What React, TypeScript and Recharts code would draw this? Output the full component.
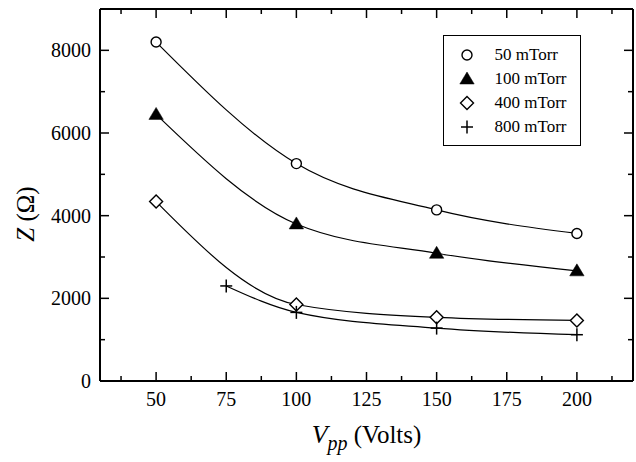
import React from 'react';
import { LineChart, Line, XAxis, YAxis, Legend, Label } from 'recharts';

const vpp50 = [50, 100, 150, 200];
const z50 = [8200, 5260, 4140, 3570];
const vpp100 = [50, 100, 150, 200];
const z100 = [6450, 3800, 3090, 2665];
const vpp400 = [50, 100, 150, 200];
const z400 = [4340, 1850, 1540, 1465];
const vpp800 = [75, 100, 150, 200];
const z800 = [2300, 1660, 1280, 1120];

const seriesNames = ['50 mTorr', '100 mTorr', '400 mTorr', '800 mTorr'];
const xTicks = [37.5, 50, 62.5, 75, 87.5, 100, 112.5, 125, 137.5, 150, 162.5, 175, 187.5, 200, 212.5];
const yTicks = [0, 1000, 2000, 3000, 4000, 5000, 6000, 7000, 8000];

const build = (xs: number[], ys: number[]) => xs.map((x, i) => ({ x, y: ys[i] }));
const d50 = build(vpp50, z50);
const d100 = build(vpp100, z100);
const d400 = build(vpp400, z400);
const d800 = build(vpp800, z800);

const FONT = "'Liberation Serif', 'Times New Roman', serif";
const textStyle = { fontFamily: FONT };

const Marker = ({ kind, cx, cy }: { kind: number; cx: number; cy: number }) => {
  if (kind === 0) return <circle cx={cx} cy={cy} r={5} fill="#fff" stroke="#000" strokeWidth={1.4} />;
  if (kind === 1)
    return <polygon points={`${cx - 7.2},${cy + 5} ${cx + 7.2},${cy + 5} ${cx},${cy - 7}`} fill="#000" stroke="#000" strokeWidth={0.5} />;
  if (kind === 2)
    return (
      <polygon
        points={`${cx},${cy - 6.5} ${cx + 6.5},${cy} ${cx},${cy + 6.5} ${cx - 6.5},${cy}`}
        fill="#fff"
        stroke="#000"
        strokeWidth={1.4}
      />
    );
  return (
    <g stroke="#000" strokeWidth={1.5}>
      <line x1={cx - 6} y1={cy} x2={cx + 6} y2={cy} />
      <line x1={cx} y1={cy - 6.5} x2={cx} y2={cy + 6.5} />
    </g>
  );
};

const makeDot = (kind: number) => (props: any) => {
  const { cx, cy, index } = props;
  if (cx == null || cy == null) return <g key={`d${kind}-${index}`} />;
  return <Marker key={`d${kind}-${index}`} kind={kind} cx={cx} cy={cy} />;
};

const isMajorX = (v: number) => Math.abs(v % 25) < 1e-6;
const isMajorY = (v: number) => v % 2000 === 0;

const BottomTick = (props: any) => {
  const { x, y, payload } = props;
  const major = isMajorX(payload.value);
  return (
    <g>
      <line x1={x} y1={y} x2={x} y2={y - (major ? 9 : 5)} stroke="#000" strokeWidth={1.5} />
      {major && (
        <text x={x} y={y + 25} textAnchor="middle" style={textStyle} fontSize={20} fill="#000">
          {payload.value}
        </text>
      )}
    </g>
  );
};

const TopTick = (props: any) => {
  const { x, y, payload } = props;
  const major = isMajorX(payload.value);
  return <line x1={x} y1={y} x2={x} y2={y + (major ? 9 : 5)} stroke="#000" strokeWidth={1.5} />;
};

const LeftTick = (props: any) => {
  const { x, y, payload } = props;
  const major = isMajorY(payload.value);
  return (
    <g>
      <line x1={x} y1={y} x2={x + (major ? 9 : 5)} y2={y} stroke="#000" strokeWidth={1.5} />
      {major && (
        <text x={x - 9} y={y} dy="0.35em" textAnchor="end" style={textStyle} fontSize={20} fill="#000">
          {payload.value}
        </text>
      )}
    </g>
  );
};

const RightTick = (props: any) => {
  const { x, y, payload } = props;
  const major = isMajorY(payload.value);
  return <line x1={x} y1={y} x2={x - (major ? 9 : 5)} y2={y} stroke="#000" strokeWidth={1.5} />;
};

const XLabel = () => {
  const cx = 366.5;
  return (
    <text x={cx} y={443} textAnchor="middle" style={textStyle} fontSize={25} fill="#000">
      <tspan fontStyle="italic" fontSize={26}>V</tspan>
      <tspan fontStyle="italic" fontSize={20} dy={7}>pp</tspan>
      <tspan dy={-7}> (Volts)</tspan>
    </text>
  );
};

const YLabel = () => {
  const lx = 34;
  const ly = 214;
  return (
    <text
      x={lx}
      y={ly}
      transform={`rotate(-90 ${lx} ${ly})`}
      textAnchor="middle"
      style={textStyle}
      fontSize={25}
      fill="#000"
    >
      <tspan fontStyle="italic">Z</tspan>
      <tspan> (Ω)</tspan>
    </text>
  );
};

const LegendBox = () => (
  <div
    style={{
      position: 'relative',
      width: 138,
      height: 111,
      border: '1.5px solid #000',
      boxSizing: 'border-box',
      background: '#fff',
      fontFamily: FONT,
    }}
  >
    {seriesNames.map((name, i) => (
      <div key={name} style={{ position: 'absolute', left: 0, top: 6.5 + i * 24.3, height: 24, width: '100%' }}>
        <svg width={20} height={20} style={{ position: 'absolute', left: 12.5, top: 2 }}>
          <Marker kind={i} cx={10} cy={10} />
        </svg>
        <span
          style={{
            position: 'absolute',
            left: 50.5,
            top: 0,
            lineHeight: '24px',
            fontSize: 17,
            color: '#000',
            whiteSpace: 'nowrap',
          }}
        >
          {name}
        </span>
      </div>
    ))}
  </div>
);

export default function App() {
  return (
    <div style={{ position: 'absolute', left: 0, top: 0, width: 636, height: 462, background: '#fff', fontFamily: FONT }}>
      <LineChart width={636} height={462} margin={{ top: 8, right: 2, bottom: 80, left: 99 }} style={{ fontFamily: FONT }}>
        <XAxis
          xAxisId="bottom"
          type="number"
          dataKey="x"
          domain={[30, 220]}
          allowDataOverflow
          ticks={xTicks}
          interval={0}
          height={1}
          tickSize={0}
          tickMargin={0}
          tick={BottomTick}
          tickLine={false}
          axisLine={{ stroke: '#000', strokeWidth: 2 }}
          orientation="bottom"
        >
          <Label content={XLabel} />
        </XAxis>
        <XAxis
          xAxisId="top"
          type="number"
          dataKey="x"
          domain={[30, 220]}
          allowDataOverflow
          ticks={xTicks}
          interval={0}
          height={1}
          tickSize={0}
          tickMargin={0}
          tick={TopTick}
          tickLine={false}
          axisLine={{ stroke: '#000', strokeWidth: 2 }}
          orientation="top"
        />
        <YAxis
          yAxisId="left"
          type="number"
          dataKey="y"
          domain={[0, 9000]}
          allowDataOverflow
          ticks={yTicks}
          interval={0}
          width={1}
          tickSize={0}
          tickMargin={0}
          tick={LeftTick}
          tickLine={false}
          axisLine={{ stroke: '#000', strokeWidth: 2 }}
          orientation="left"
        >
          <Label content={YLabel} />
        </YAxis>
        <YAxis
          yAxisId="right"
          type="number"
          dataKey="y"
          domain={[0, 9000]}
          allowDataOverflow
          ticks={yTicks}
          interval={0}
          width={1}
          tickSize={0}
          tickMargin={0}
          tick={RightTick}
          tickLine={false}
          axisLine={{ stroke: '#000', strokeWidth: 2 }}
          orientation="right"
        />
        <Legend
          layout="vertical"
          align="center"
          verticalAlign="middle"
          content={LegendBox}
          wrapperStyle={{ position: 'absolute', left: 443, top: 35, width: 138, height: 111 }}
        />
        {[d50, d100, d400, d800].map((d, i) => (
          <Line
            key={seriesNames[i]}
            name={seriesNames[i]}
            data={d}
            dataKey="y"
            xAxisId="bottom"
            yAxisId="left"
            type="monotone"
            stroke="#000"
            strokeWidth={1.2}
            dot={makeDot(i)}
            activeDot={false}
            isAnimationActive={false}
          />
        ))}
      </LineChart>
    </div>
  );
}
